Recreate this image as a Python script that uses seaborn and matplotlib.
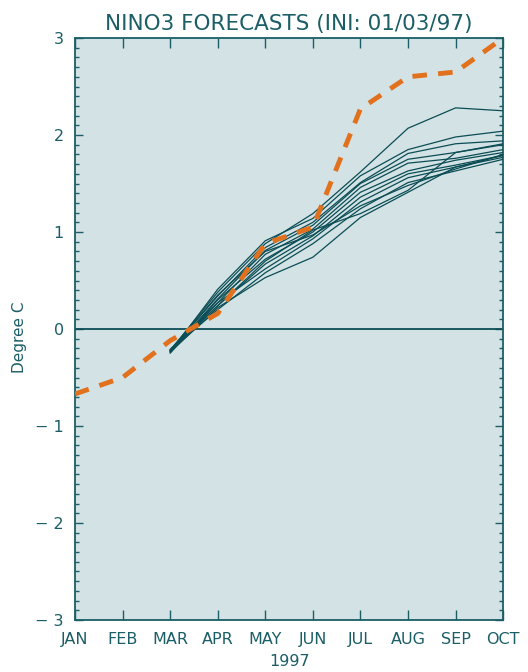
import numpy as np
import pandas as pd
import matplotlib
matplotlib.use("Agg")
import matplotlib.pyplot as plt
from matplotlib.ticker import MultipleLocator, FuncFormatter
import seaborn as sns

# data
months = ["JAN", "FEB", "MAR", "APR", "MAY", "JUN", "JUL", "AUG", "SEP", "OCT"]
observed = [-0.67, -0.50, -0.12, 0.16, 0.88, 1.05, 2.27, 2.60, 2.65, 3.00]

forecast_months = ["MAR", "APR", "MAY", "JUN", "JUL", "AUG", "SEP", "OCT"]
member_01 = [-0.22, 0.38, 0.88, 1.19, 1.62, 2.07, 2.28, 2.25]
member_02 = [-0.24, 0.41, 0.91, 1.14, 1.58, 1.85, 1.98, 2.04]
member_03 = [-0.22, 0.34, 0.84, 1.10, 1.51, 1.81, 1.91, 1.94]
member_04 = [-0.23, 0.31, 0.81, 1.07, 1.50, 1.75, 1.82, 1.91]
member_05 = [-0.22, 0.27, 0.77, 1.03, 1.46, 1.71, 1.76, 1.85]
member_06 = [-0.25, 0.30, 0.72, 1.00, 1.41, 1.63, 1.74, 1.82]
member_07 = [-0.21, 0.24, 0.67, 0.96, 1.36, 1.60, 1.69, 1.79]
member_08 = [-0.23, 0.27, 0.62, 0.93, 1.31, 1.56, 1.67, 1.77]
member_09 = [-0.22, 0.20, 0.58, 0.88, 1.24, 1.51, 1.63, 1.75]
member_10 = [-0.24, 0.22, 0.53, 0.74, 1.15, 1.41, 1.67, 1.79]
member_11 = [-0.23, 0.24, 0.70, 1.02, 1.19, 1.43, 1.82, 1.90]
member_12 = [-0.22, 0.35, 0.80, 0.97, 1.27, 1.48, 1.65, 1.80]
members = [member_01, member_02, member_03, member_04, member_05, member_06,
           member_07, member_08, member_09, member_10, member_11, member_12]

teal = "#1b5e66"
line_col = "#0b4d55"
orange = "#e2711d"
bg = "#d3e2e5"

sns.set_style("ticks")
plt.rcParams["font.family"] = ["DejaVu Sans"]

obs_df = pd.DataFrame({"month": [months.index(m) for m in months], "value": observed})
rows = []
for i, vals in enumerate(members):
    for m, v in zip(forecast_months, vals):
        rows.append({"member": i, "month": months.index(m), "value": v})
fc_df = pd.DataFrame(rows)

fig = plt.figure(figsize=(5.28, 6.72), dpi=100)
ax = fig.add_axes([0.142, 0.0774, 0.811, 0.866])
ax.set_facecolor(bg)

ax.axhline(0, color=line_col, lw=1.3, zorder=2)
sns.lineplot(data=fc_df, x="month", y="value", units="member", estimator=None,
             color=line_col, lw=0.9, ax=ax, zorder=3)
sns.lineplot(data=obs_df, x="month", y="value", color=orange, lw=3.5,
             dashes=False, ax=ax, zorder=4)
ax.lines[-1].set_dashes((3, 2.3))
ax.lines[-1].set_dash_capstyle("butt")

ax.set_xlim(0, 9)
ax.set_ylim(-3, 3)
ax.set_xticks(range(len(months)))
ax.set_xticklabels(months)
ax.yaxis.set_major_locator(MultipleLocator(1))
ax.yaxis.set_minor_locator(MultipleLocator(0.1))
ax.yaxis.set_major_formatter(FuncFormatter(
    lambda v, p: f"\u2212 {abs(v):.0f}" if v < 0 else f"{v:.0f}"))

ax.tick_params(axis="x", which="major", direction="in", length=7, width=1,
               top=True, bottom=True, color=teal, labelcolor=teal,
               labelsize=11.5, pad=9)
ax.tick_params(axis="y", which="major", direction="in", length=6, width=1,
               left=True, right=True, color=teal, labelcolor=teal,
               labelsize=11.5, pad=8)
ax.tick_params(axis="y", which="minor", direction="in", length=3, width=1,
               left=True, right=True, color=teal)

for s in ax.spines.values():
    s.set_color(teal)
    s.set_linewidth(1.3)

ax.set_xlabel("1997", color=teal, fontsize=11.5, labelpad=5)
ax.set_ylabel("Degree C", color=teal, fontsize=11)
ax.yaxis.set_label_coords(-0.112, 0.485)
ax.set_title("NINO3 FORECASTS (INI: 01/03/97)", color=teal, fontsize=15.5, pad=6)

fig.savefig("out.png", dpi=100, facecolor="white")
